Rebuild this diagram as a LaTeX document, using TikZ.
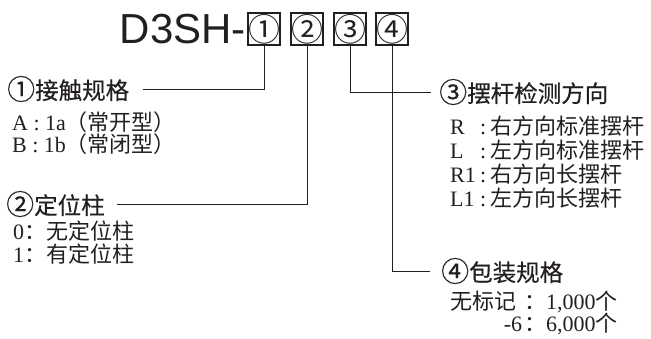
\documentclass[tikz,border=0pt]{standalone}
\usepackage{fontspec}
\setmainfont{Liberation Serif}
\newfontfamily\cjk{Noto Sans CJK SC}
\newfontfamily\cjkhead[FakeBold=0.35]{Noto Sans CJK SC}
\newfontfamily\arial{Liberation Sans}
\usetikzlibrary{positioning}
\definecolor{ink}{HTML}{231F20}
\newcommand\cnum[1]{\raisebox{-0.5pt}{\fontsize{28}{24}\selectfont #1}}

\begin{document}
\begin{tikzpicture}[x=1pt, y=-1pt, color=ink, text=ink,
  code box/.style={draw, line width=1.6pt, minimum size=32pt, inner sep=0pt, font=\cjk\fontsize{32}{26}\selectfont},
  head node/.style={anchor=west, inner sep=0pt, font=\cjkhead\fontsize{23.5}{24}\selectfont},
  item node/.style={anchor=base west, inner sep=0pt, font=\fontsize{22}{23}\selectfont},
  link/.style={line width=0.9pt}]
\useasboundingbox (0,0) rectangle (651,338);
% part number
\node[code box] (b1) at (264,29) {\raisebox{-1pt}{①}};
\node[code box] (b2) at (307,29) {\raisebox{-1pt}{②}};
\node[code box] (b3) at (350,29) {\raisebox{-1pt}{③}};
\node[code box] (b4) at (392,29) {\raisebox{-1pt}{④}};
\node[inner sep=0pt, font=\arial\fontsize{42}{42}\selectfont, left=1pt of b1] (pn) {D3SH-};
% headings
\node[head node] (h1) at (7,89) {\cnum{①}接触规格};
\node[head node] (h2) at (6,204) {\cnum{②}定位柱};
\node[head node] (h3) at (439,92) {\cnum{③}摆杆检测方向};
\node[head node] (h4) at (441,271) {\cnum{④}包装规格};
% options
\node[item node] (a1) at (12,130) {A : 1a{\cjk（常开型）}};
\node[item node] (a2) at (12,152) {B : 1b{\cjk（常闭型）}};
\node[item node] (p1) at (13,239) {0{\cjk：无定位柱}};
\node[item node] (p2) at (13,262) {1{\cjk：有定位柱}};
\node[item node] (r1) at (450,134) {\makebox[30pt][l]{R}:\hspace{4pt}{\cjk 右方向标准摆杆}};
\node[item node] (r2) at (450,158) {\makebox[30pt][l]{L}:\hspace{4pt}{\cjk 左方向标准摆杆}};
\node[item node] (r3) at (450,182) {\makebox[30pt][l]{R1}:\hspace{4pt}{\cjk 右方向长摆杆}};
\node[item node] (r4) at (450,206) {\makebox[30pt][l]{L1}:\hspace{4pt}{\cjk 左方向长摆杆}};
\node[item node] (k1) at (450,309) {\makebox[74pt][r]{\cjk 无标记\hspace{8pt}}{\cjk：}1,000{\cjk 个}};
\node[item node] (k2) at (450,331) {\makebox[74pt][r]{-6\hspace{2pt}}{\cjk：}6,000{\cjk 个}};
% connectors
\draw[link, shorten >=14pt] (b1) |- (h1);
\draw[link, shorten >=12pt] (b2) |- (h2);
\draw[link, shorten >=8pt] (b3) |- (h3);
\draw[link, shorten >=11pt] (b4) |- (h4);
\end{tikzpicture}
\end{document}
